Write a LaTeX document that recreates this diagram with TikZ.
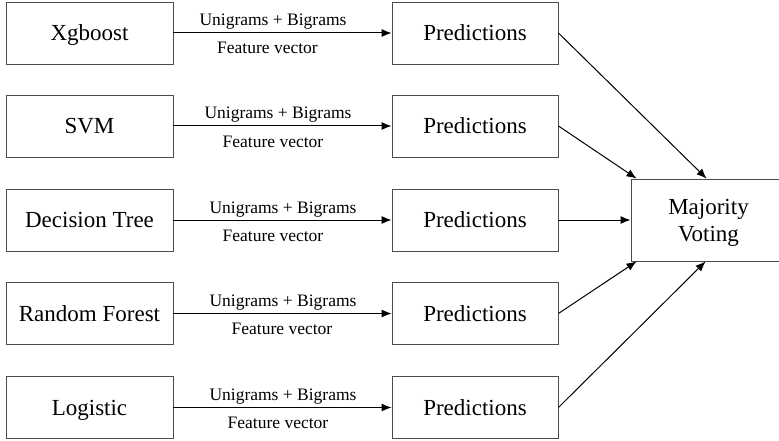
\documentclass[tikz,border=0pt]{standalone}
\usepackage{fontspec}
\setmainfont{Liberation Serif}
\usetikzlibrary{arrows.meta,calc}
\begin{document}
\begin{tikzpicture}[x=1pt,y=-1pt,
  box/.style={draw=black!70,line width=0.9pt,minimum height=62pt,inner sep=0pt,
    font=\rmfamily\fontsize{23}{27}\selectfont,text height=15.2pt,text depth=0pt},
  model/.style={box,minimum width=167pt},
  pred/.style={box,minimum width=166pt},
  lbl/.style={font=\rmfamily\fontsize{17.5}{20}\selectfont,inner sep=0pt,anchor=base},
  arr/.style={line width=1pt,-{Latex[length=10pt,width=8pt]}}
]
\clip (0,0) rectangle (779,441);

\node[model] (m1) at (89.5,33) {Xgboost};
\node[model] (m2) at (89.5,126) {SVM};
\node[model] (m3) at (89.5,220) {Decision Tree};
\node[model] (m4) at (89.5,313.5) {Random Forest};
\node[model] (m5) at (89.5,407.5) {Logistic};

\node[pred] (p1) at (475,33) {Predictions};
\node[pred] (p2) at (475,126) {Predictions};
\node[pred] (p3) at (475,220) {Predictions};
\node[pred] (p4) at (475,313.5) {Predictions};
\node[pred] (p5) at (475,407.5) {Predictions};

\node[box,minimum width=155pt,minimum height=82pt,align=center,text height=42.2pt] (maj) at (708.5,220) {Majority\\Voting};

\foreach \i/\y/\ux/\fx in {1/33/273/267.5, 2/126/278/273, 3/220/283/273, 4/313.5/283/282, 5/407.5/283/278}{
  \draw[arr] (m\i) -- (p\i);
  \node[lbl] (u\i) at (\ux,\y-7) {Unigrams + Bigrams};
  \node[lbl] (f\i) at (\fx,\y+21) {Feature vector};
}

\draw[arr] (p1.east) -- ($(maj.north west)+(76,0)$);
\draw[arr] (p2.east) -- ($(maj.north west)+(6,0)$);
\draw[arr] (p3.east) -- (maj.west);
\draw[arr] (p4.east) -- ($(maj.south west)+(6,0)$);
\draw[arr] (p5.east) -- ($(maj.south west)+(75,0)$);
\end{tikzpicture}
\end{document}
